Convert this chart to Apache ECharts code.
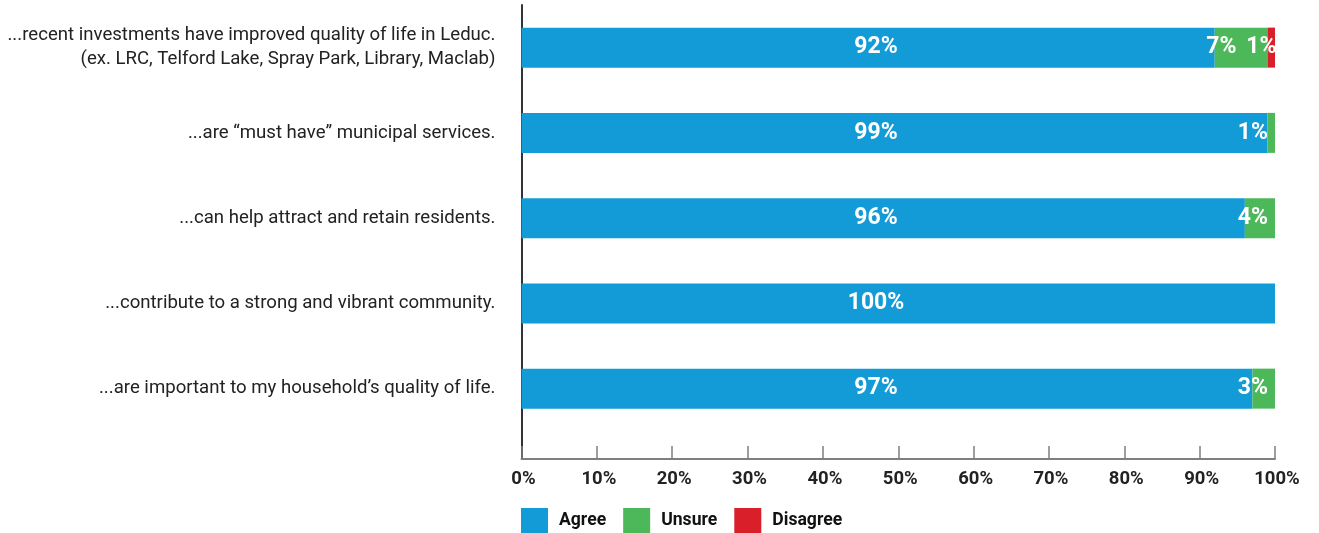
<!DOCTYPE html>
<html>
<head>
<meta charset="utf-8">
<script src="https://cdn.jsdelivr.net/npm/echarts@6/dist/echarts.min.js"></script>
<style>
  html, body { margin: 0; padding: 0; background: #ffffff; }
  #chart { width: 1319px; height: 533px; }
</style>
</head>
<body>
<div id="chart"></div>
<script>
// Survey statements (top to bottom)
const categories = [
  '...recent investments have improved quality of life in Leduc.\n(ex. LRC, Telford Lake, Spray Park, Library, Maclab)',
  '...are \u201cmust have\u201d municipal services.',
  '...can help attract and retain residents.',
  '...contribute to a strong and vibrant community.',
  '...are important to my household\u2019s quality of life.'
];
// Share of respondents, percent
const agree    = [92, 99, 96, 100, 97];
const unsure   = [7, 1, 4, 0, 3];
const disagree = [1, 0, 0, 0, 0];
const tickValues = [0, 10, 20, 30, 40, 50, 60, 70, 80, 90, 100];

const FONT = 'Roboto, "Noto Sans", Arial, sans-serif';
const COLORS = { agree: '#139bd7', unsure: '#4cb859', disagree: '#d91f2a' };

const LEFT = 521.5, RIGHT = 44, TOP = 5;

const pct = v => (v > 0 ? v + '%' : '');

// When the unsure and disagree segments share a row, pull the unsure label left
const unsureData = unsure.map((v, i) =>
  disagree[i] > 0 ? { value: v, label: { distance: 31 } } : v
);

const valueLabel = {
  show: true,
  color: '#ffffff',
  fontFamily: FONT,
  fontWeight: 'bold',
  fontSize: 23,
  formatter: p => pct(p.value)
};

const chart = echarts.init(document.getElementById('chart'), null, { renderer: 'canvas' });

chart.setOption({
  animation: false,
  backgroundColor: '#ffffff',
  grid: [
    // bars
    { left: LEFT, right: RIGHT, top: TOP, height: 426.25, containLabel: false },
    // frame with the percentage scale
    { left: LEFT, right: RIGHT, top: TOP, bottom: 74, containLabel: false }
  ],
  legend: {
    left: 516,
    top: 503,
    itemWidth: 27,
    itemHeight: 26,
    itemGap: 17,
    icon: 'rect',
    data: ['Agree', 'Unsure', 'Disagree'],
    textStyle: {
      fontFamily: FONT,
      fontWeight: 'bold',
      fontSize: 17.6,
      color: '#111111',
      padding: [3, 0, 0, 6]
    }
  },
  xAxis: [
    {
      gridIndex: 0, type: 'value', min: 0, max: 100, show: false
    },
    {
      gridIndex: 1, type: 'value', min: 0, max: 100, interval: 10,
      axisLine: { show: true, lineStyle: { color: '#7f7f7f', width: 2 } },
      axisTick: { show: true, inside: true, length: 13, lineStyle: { color: '#7f7f7f', width: 1.5 } },
      splitLine: { show: false },
      axisLabel: {
        margin: 11,
        fontFamily: FONT,
        fontWeight: 'bold',
        fontSize: 18.5,
        color: '#222222',
        padding: [0, 0, 0, 4],
        customValues: tickValues,
        formatter: '{value}%'
      }
    }
  ],
  yAxis: [
    {
      gridIndex: 0, type: 'category', inverse: true, data: categories,
      axisLine: { show: false },
      axisTick: { show: false },
      axisLabel: {
        margin: 26,
        fontFamily: FONT,
        fontSize: 18.6,
        lineHeight: 24,
        color: '#222222',
        align: 'right'
      }
    },
    {
      gridIndex: 1, type: 'value', min: 0, max: 1,
      axisLine: { show: true, lineStyle: { color: '#333333', width: 2 } },
      axisTick: { show: false },
      axisLabel: { show: false },
      splitLine: { show: false }
    }
  ],
  series: [
    {
      name: 'Agree', type: 'bar', stack: 'total', xAxisIndex: 0, yAxisIndex: 0,
      barWidth: 40, itemStyle: { color: COLORS.agree },
      label: Object.assign({}, valueLabel, { position: [354.5, '50%'], align: 'center', verticalAlign: 'middle' }),
      data: agree
    },
    {
      name: 'Unsure', type: 'bar', stack: 'total', xAxisIndex: 0, yAxisIndex: 0,
      barWidth: 40, itemStyle: { color: COLORS.unsure },
      label: Object.assign({}, valueLabel, { position: 'insideRight', distance: 7 }),
      data: unsureData
    },
    {
      name: 'Disagree', type: 'bar', stack: 'total', xAxisIndex: 0, yAxisIndex: 0,
      barWidth: 40, itemStyle: { color: COLORS.disagree },
      label: Object.assign({}, valueLabel, { position: 'insideRight', distance: -1.5 }),
      data: disagree
    }
  ]
});
</script>
</body>
</html>
